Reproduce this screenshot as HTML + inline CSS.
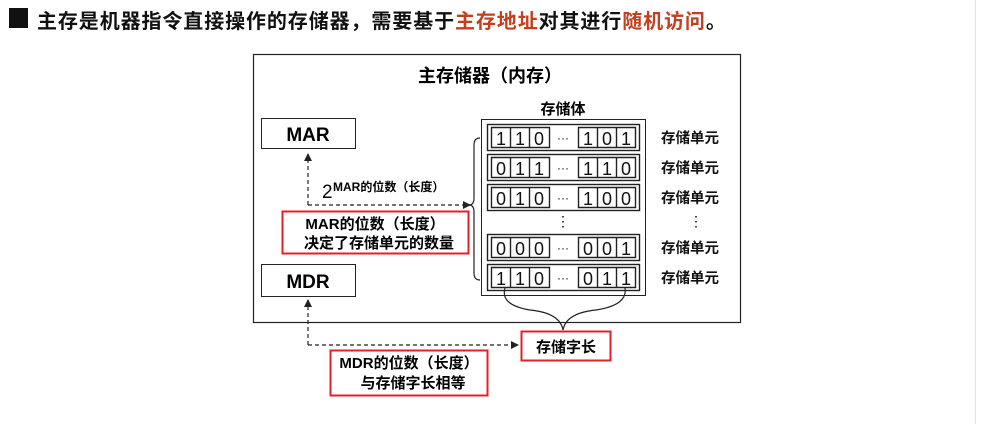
<!DOCTYPE html>
<html><head><meta charset="utf-8"><style>
body{margin:0;width:991px;height:424px;background:#fff;position:relative;overflow:hidden;font-family:"Liberation Sans","Noto Sans CJK SC",sans-serif;}
.t{position:absolute;white-space:nowrap;font-weight:bold;color:#111;}
</style></head><body>
<div style="position:absolute;left:9px;top:8px;width:19px;height:20px;background:#111"></div>
<div class="t" style="left:37px;top:5px;font-size:20px;letter-spacing:0.9px">主存是机器指令直接操作的存储器，需要基于<span style="color:#c0401f">主存地址</span>对其进行<span style="color:#c0401f">随机访问</span>。</div>
<div style="position:absolute;left:975px;top:0;width:1px;height:424px;background:#e4e4e4"></div>
<svg width="991" height="424" style="position:absolute;left:0;top:0" font-family="Liberation Sans, Noto Sans CJK SC, sans-serif" font-weight="bold">
<defs><marker id="a" markerWidth="8" markerHeight="8" refX="7" refY="4" orient="auto" markerUnits="userSpaceOnUse"><path d="M0,0 L8,4 L0,8 z" fill="#222"/></marker></defs>
<rect x="253.5" y="54.5" width="487" height="268" fill="none" stroke="#222" stroke-width="1.2"/>
<text x="490" y="82" font-size="18" text-anchor="middle">主存储器（内存）</text>
<rect x="261.5" y="118.5" width="94" height="30" fill="#fff" stroke="#222"/>
<text x="308" y="141" font-size="19" text-anchor="middle">MAR</text>
<rect x="261.5" y="264.5" width="94" height="32" fill="#fff" stroke="#222"/>
<text x="308" y="288" font-size="19" text-anchor="middle">MDR</text>
<text x="563" y="114" font-size="15" text-anchor="middle">存储体</text>
<rect x="481.5" y="119.5" width="164" height="176" fill="none" stroke="#222"/>
<g stroke="#222" fill="none" stroke-width="1.2" stroke-dasharray="4,3">
<path d="M308 205 V154" marker-end="url(#a)"/>
<path d="M308 205 H470" marker-end="url(#a)"/>
<path d="M308 345 V300" marker-end="url(#a)"/>
<path d="M308 345 H518" marker-end="url(#a)"/>
</g>
<path d="M480 138 Q474 138 474 145 V198 Q474 205 469 205 Q474 205 474 212 V273 Q474 280 480 280" fill="none" stroke="#222" stroke-width="1.2"/>
<path d="M505 288 Q500 305 530 310 Q560 313 563 330 Q566 313 596 310 Q628 305 625 288" fill="none" stroke="#222" stroke-width="1.2"/>
<text x="322" y="198" font-size="19" font-weight="normal">2</text>
<text x="333" y="191" font-size="12">MAR的位数（长度）</text>
<rect x="282.5" y="211.5" width="186" height="42" fill="#fff" stroke="#e0202a" stroke-width="2"/>
<text x="375" y="229" font-size="15" text-anchor="middle">MAR的位数（长度）</text>
<text x="379" y="248" font-size="15" text-anchor="middle">决定了存储单元的数量</text>
<rect x="521.5" y="331.5" width="89" height="29" fill="#fff" stroke="#e0202a" stroke-width="2"/>
<text x="566" y="352" font-size="15" text-anchor="middle">存储字长</text>
<rect x="330.5" y="350.5" width="157" height="45" fill="#fff" stroke="#e0202a" stroke-width="2"/>
<text x="409" y="368" font-size="15" text-anchor="middle">MDR的位数（长度）</text>
<text x="413" y="388" font-size="15" text-anchor="middle">与存储字长相等</text>
<text x="563" y="226" font-size="14" text-anchor="middle" font-weight="normal">⋮</text>
<text x="696" y="226" font-size="14" text-anchor="middle" font-weight="normal">⋮</text>
<g font-size="14.5" fill="#111">
<text x="661" y="143">存储单元</text><text x="661" y="173">存储单元</text><text x="661" y="203">存储单元</text><text x="661" y="253">存储单元</text><text x="661" y="283">存储单元</text>
</g>
<g stroke="#222" fill="none" stroke-width="1.4">
<rect x="487.5" y="124.5" width="152" height="26"/><rect x="487.5" y="154.5" width="152" height="26"/><rect x="487.5" y="184.5" width="152" height="26"/><rect x="487.5" y="234.5" width="152" height="26"/><rect x="487.5" y="264.5" width="152" height="26"/>
</g>
<g stroke="#222" fill="none" stroke-width="1.4">
<path d="M491.5 127.5h58v20h-58z M510.5 127.5v20 M529.5 127.5v20 M578.5 127.5h57v20h-57z M597.5 127.5v20 M616.5 127.5v20"/>
<path d="M491.5 157.5h58v20h-58z M510.5 157.5v20 M529.5 157.5v20 M578.5 157.5h57v20h-57z M597.5 157.5v20 M616.5 157.5v20"/>
<path d="M491.5 187.5h58v20h-58z M510.5 187.5v20 M529.5 187.5v20 M578.5 187.5h57v20h-57z M597.5 187.5v20 M616.5 187.5v20"/>
<path d="M491.5 237.5h58v20h-58z M510.5 237.5v20 M529.5 237.5v20 M578.5 237.5h57v20h-57z M597.5 237.5v20 M616.5 237.5v20"/>
<path d="M491.5 267.5h58v20h-58z M510.5 267.5v20 M529.5 267.5v20 M578.5 267.5h57v20h-57z M597.5 267.5v20 M616.5 267.5v20"/>
</g>
<g font-size="18" font-weight="normal" text-anchor="middle" fill="#111">
<text x="501" y="145">1</text><text x="520" y="145">1</text><text x="539" y="145">0</text><text x="563" y="142" font-size="12">···</text><text x="588" y="145">1</text><text x="607" y="145">0</text><text x="626" y="145">1</text>
<text x="501" y="175">0</text><text x="520" y="175">1</text><text x="539" y="175">1</text><text x="563" y="172" font-size="12">···</text><text x="588" y="175">1</text><text x="607" y="175">1</text><text x="626" y="175">0</text>
<text x="501" y="205">0</text><text x="520" y="205">1</text><text x="539" y="205">0</text><text x="563" y="202" font-size="12">···</text><text x="588" y="205">1</text><text x="607" y="205">0</text><text x="626" y="205">0</text>
<text x="501" y="255">0</text><text x="520" y="255">0</text><text x="539" y="255">0</text><text x="563" y="252" font-size="12">···</text><text x="588" y="255">0</text><text x="607" y="255">0</text><text x="626" y="255">1</text>
<text x="501" y="285">1</text><text x="520" y="285">1</text><text x="539" y="285">0</text><text x="563" y="282" font-size="12">···</text><text x="588" y="285">0</text><text x="607" y="285">1</text><text x="626" y="285">1</text>
</g>
</svg>
</body></html>
